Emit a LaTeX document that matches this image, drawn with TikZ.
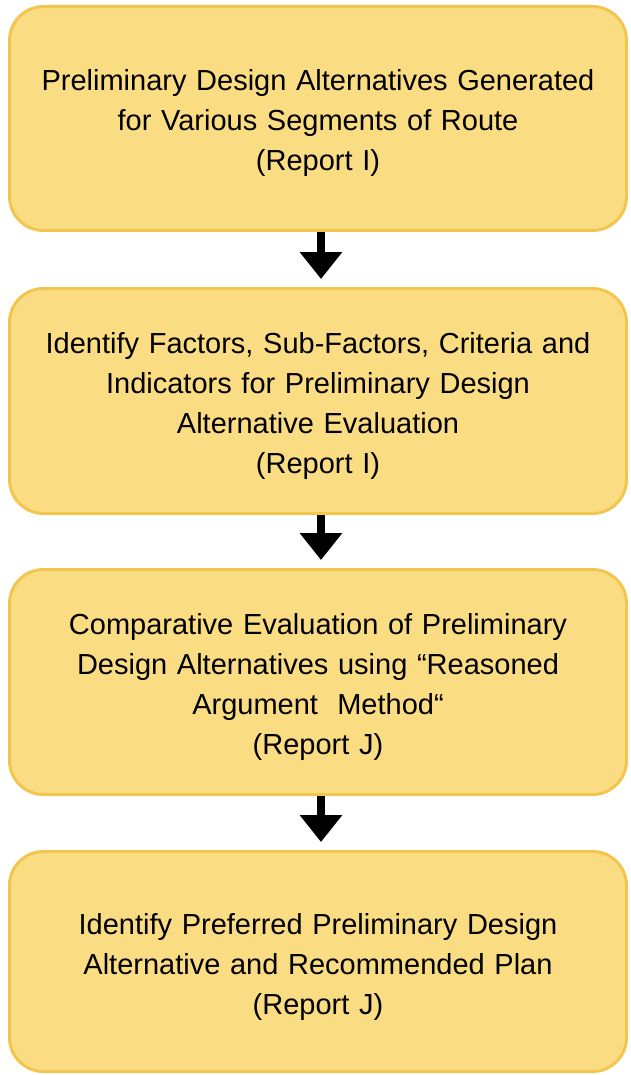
\documentclass[tikz,border=0pt]{standalone}
\usepackage{fontspec}
\setmainfont{Liberation Sans}
\usetikzlibrary{arrows.meta}
\definecolor{stepfill}{RGB}{250,221,130}
\definecolor{stepline}{RGB}{242,198,78}
\tikzset{stepbox/.style={draw=stepline, fill=stepfill, line width=3pt, rounded corners=34pt,
    minimum width=617pt, text width=600pt, align=center, font=\fontsize{29}{40}\selectfont,
    execute at begin node={\rule{0pt}{31pt}}},
  flowarrow/.style={line width=8pt, -{Triangle[width=41pt,length=27pt]}, shorten >=8pt}}

\begin{document}
\begin{tikzpicture}[x=1pt,y=-1pt]
\useasboundingbox (0,0) rectangle (630,1075);
\node[stepbox, minimum height=224pt] (gen) at (318,118.5) {Preliminary Design Alternatives Generated\\for Various Segments of Route\\(Report I)};
\node[stepbox, minimum height=225pt] (fac) at (318,401) {Identify Factors, Sub-Factors, Criteria and\\Indicators for Preliminary Design\\Alternative Evaluation\\(Report I)};
\node[stepbox, minimum height=225pt] (cmp) at (318,682) {Comparative Evaluation of Preliminary\\Design Alternatives using “Reasoned\\Argument~ Method“\\(Report J)};
\node[stepbox, minimum height=220pt] (pref) at (318,961.5) {Identify Preferred Preliminary Design\\Alternative and Recommended Plan\\(Report J)};
\draw[flowarrow] ([xshift=3pt]gen.south) -- ([xshift=3pt]fac.north);
\draw[flowarrow] ([xshift=3pt]fac.south) -- ([xshift=3pt]cmp.north);
\draw[flowarrow] ([xshift=3pt]cmp.south) -- ([xshift=3pt]pref.north);
\end{tikzpicture}
\end{document}
